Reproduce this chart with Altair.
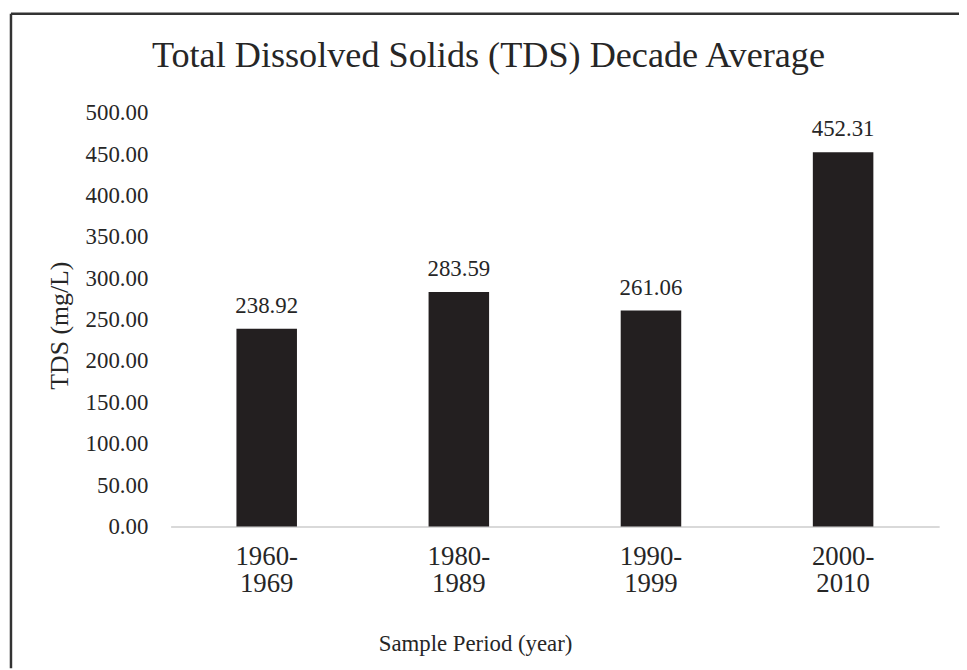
import altair as alt
import pandas as pd

periods = ["1960-1969", "1980-1989", "1990-1999", "2000-2010"]
tds_values = [238.92, 283.59, 261.06, 452.31]
y_ticks = [0, 50, 100, 150, 200, 250, 300, 350, 400, 450, 500]

df = pd.DataFrame({"period": periods, "tds": tds_values})

FONT = "Liberation Serif"
TEXT = "#262626"
BAR = "#231f20"

x_enc = alt.X(
    "period:N",
    sort=periods,
    scale=alt.Scale(paddingInner=0.685, paddingOuter=0.3425),
    axis=alt.Axis(
        title="Sample Period (year)",
        labelAngle=0,
        labelExpr="[slice(datum.value, 0, 5), slice(datum.value, 5)]",
        labelFontSize=27,
        labelLineHeight=28,
        labelPadding=17,
        ticks=False,
        domainColor="#d9d9d9",
        domainWidth=2,
        grid=False,
        titleFontSize=23,
        titleFontWeight="normal",
        titleX=307,
        titleY=125,
        titleAlign="center",
        titleBaseline="alphabetic",
    ),
)
y_enc = alt.Y(
    "tds:Q",
    scale=alt.Scale(domain=[0, 500], nice=False),
    axis=alt.Axis(
        title="TDS (mg/L)",
        values=y_ticks,
        format=".2f",
        labelFontSize=23,
        labelPadding=23,
        ticks=False,
        domain=False,
        grid=False,
        titleFontSize=26,
        titleFontWeight="normal",
        titleX=-104,
        titleY=214,
        titleAngle=270,
        titleAlign="center",
        titleBaseline="alphabetic",
    ),
)

bars = alt.Chart(df).mark_bar(color=BAR).encode(x=x_enc, y=y_enc)
labels = alt.Chart(df).mark_text(
    font=FONT, fontSize=23, color=TEXT, baseline="alphabetic", dy=-16
).encode(x=alt.X("period:N", sort=periods), y="tds:Q", text=alt.Text("tds:Q", format=".2f"))

frame_data = alt.Data(values=[{"k": 1}])
top_border = alt.Chart(frame_data).mark_rule(color="#333333", strokeWidth=2.5).encode(
    x=alt.value(-161), x2=alt.value(800), y=alt.value(-100)
)
left_border = alt.Chart(frame_data).mark_rule(color="#333333", strokeWidth=2.5).encode(
    x=alt.value(-161), y=alt.value(-100), y2=alt.value(560)
)

chart = (
    alt.layer(bars, labels, top_border, left_border)
    .properties(
        width=775,
        height=417,
        title=alt.TitleParams(
            "Total Dissolved Solids (TDS) Decade Average",
            font=FONT,
            fontSize=36.5,
            fontWeight="normal",
            color=TEXT,
            frame="group",
            anchor="middle",
            baseline="alphabetic",
            offset=-91,
            dx=-67,
        ),
        autosize=alt.AutoSizeParams(type="none"),
        padding={"left": 164, "top": 103, "right": 20, "bottom": 142},
        background="white",
    )
    .configure_view(stroke=None)
    .configure_axis(
        labelFont=FONT, titleFont=FONT, labelColor=TEXT, titleColor=TEXT
    )
)

chart.save("out.html", embed_options={"renderer": "svg", "actions": False})
